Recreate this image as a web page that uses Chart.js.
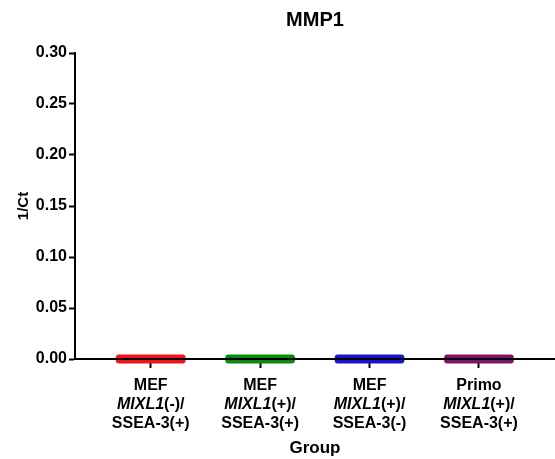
<!DOCTYPE html>
<html>
<head>
<meta charset="utf-8">
<script src="https://cdn.jsdelivr.net/npm/chart.js@4"></script>
<style>
  html, body { margin: 0; padding: 0; background: #fff; }
  #wrap { width: 555px; height: 459px; }
</style>
</head>
<body>
<div id="wrap"><canvas id="mmpChart" width="555" height="459"></canvas></div>
<script>
// Groupes et valeurs 1/Ct (tous les points sont à ~0)
const groupes = ["MEF", "MEF", "MEF", "Primo"];
const marqueurs = ["MIXL1", "MIXL1", "MIXL1", "MIXL1"];
const mixl1 = ["(-)/", "(+)/", "(+)/", "(+)/"];
const ssea3 = ["SSEA-3(+)", "SSEA-3(+)", "SSEA-3(-)", "SSEA-3(+)"];
const basValeurs = [-0.004, -0.004, -0.004, -0.004];
const hautValeurs = [0.004, 0.004, 0.004, 0.004];
const yTicks = [0, 0.05, 0.10, 0.15, 0.20, 0.25, 0.30];
const couleurs = ["#f01414", "#0c8a0c", "#1616c8", "#7a1668"];

const POLICE = '"Liberation Sans", Arial, sans-serif';

// Étiquettes de l'axe X sur trois lignes (MIXL1 en italique) + titres d'axes
const etiquettesPlugin = {
    id: "etiquettes",
    afterDatasetsDraw(chart) {
        const ctx = chart.ctx;
        const x = chart.scales.x;
        const y = chart.scales.y;
        const area = chart.chartArea;

        // ligne de l'axe X par-dessus les barres
        ctx.save();
        ctx.strokeStyle = "#000";
        ctx.lineWidth = 2;
        ctx.beginPath();
        ctx.moveTo(area.left, y.getPixelForValue(0));
        ctx.lineTo(area.right, y.getPixelForValue(0));
        ctx.stroke();

        ctx.fillStyle = "#000";
        ctx.textBaseline = "middle";
        groupes.forEach((g, i) => {
            const cx = x.getPixelForValue(i);
            ctx.textAlign = "center";
            ctx.font = "bold 16px " + POLICE;
            ctx.fillText(g, cx, 386);
            ctx.fillText(ssea3[i], cx, 424);

            // ligne du milieu : italique + normal
            ctx.textAlign = "left";
            ctx.font = "italic bold 16px " + POLICE;
            const w1 = ctx.measureText(marqueurs[i]).width;
            ctx.font = "bold 16px " + POLICE;
            const w2 = ctx.measureText(mixl1[i]).width;
            const x0 = cx - (w1 + w2) / 2;
            ctx.font = "italic bold 16px " + POLICE;
            ctx.fillText(marqueurs[i], x0, 405);
            ctx.font = "bold 16px " + POLICE;
            ctx.fillText(mixl1[i], x0 + w1, 405);
        });

        ctx.textAlign = "center";
        ctx.font = "bold 17px " + POLICE;
        ctx.fillText("Group", (area.left + area.right) / 2, 448);

        ctx.translate(24, (area.top + area.bottom) / 2);
        ctx.rotate(-Math.PI / 2);
        ctx.font = "bold 15px " + POLICE;
        ctx.fillText("1/Ct", 0, 0);
        ctx.restore();
    }
};

new Chart(document.getElementById("mmpChart"), {
    type: "bar",
    data: {
        datasets: [{
            data: groupes.map((g, i) => ({ x: i, y: [basValeurs[i], hautValeurs[i]] })),
            backgroundColor: couleurs,
            borderWidth: 0,
            borderRadius: 3,
            borderSkipped: false,
            barThickness: 69,
            clip: false
        }]
    },
    options: {
        responsive: false,
        animation: false,
        layout: { padding: { left: 0, right: 0, top: 0, bottom: 0 } },
        plugins: {
            legend: { display: false },
            tooltip: { enabled: false },
            title: {
                display: true,
                text: "MMP1",
                fullSize: false,
                color: "#000",
                font: { family: POLICE, size: 20, weight: "bold" },
                padding: { top: 8, bottom: 21 }
            }
        },
        scales: {
            x: {
                type: "linear",
                offset: false,
                min: -0.692,
                max: 3.695,
                afterBuildTicks: s => { s.ticks = [0, 1, 2, 3].map(v => ({ value: v })); },
                afterFit: s => { s.height = 100; },
                grid: { offset: false, drawOnChartArea: false, tickLength: 9, tickWidth: 2, tickColor: "#000" },
                border: { color: "#000", width: 2 },
                ticks: { callback: () => "" }
            },
            y: {
                min: 0,
                max: 0.30,
                afterBuildTicks: s => { s.ticks = yTicks.map(v => ({ value: v })); },
                afterFit: s => { s.width = 75; },
                grid: { drawOnChartArea: false, tickLength: 6, tickWidth: 2, tickColor: "#000" },
                border: { color: "#000", width: 2 },
                ticks: {
                    padding: 2,
                    color: "#000",
                    font: { family: POLICE, size: 16, weight: "bold" },
                    callback: v => v.toFixed(2)
                }
            }
        }
    },
    plugins: [etiquettesPlugin]
});
</script>
</body>
</html>
